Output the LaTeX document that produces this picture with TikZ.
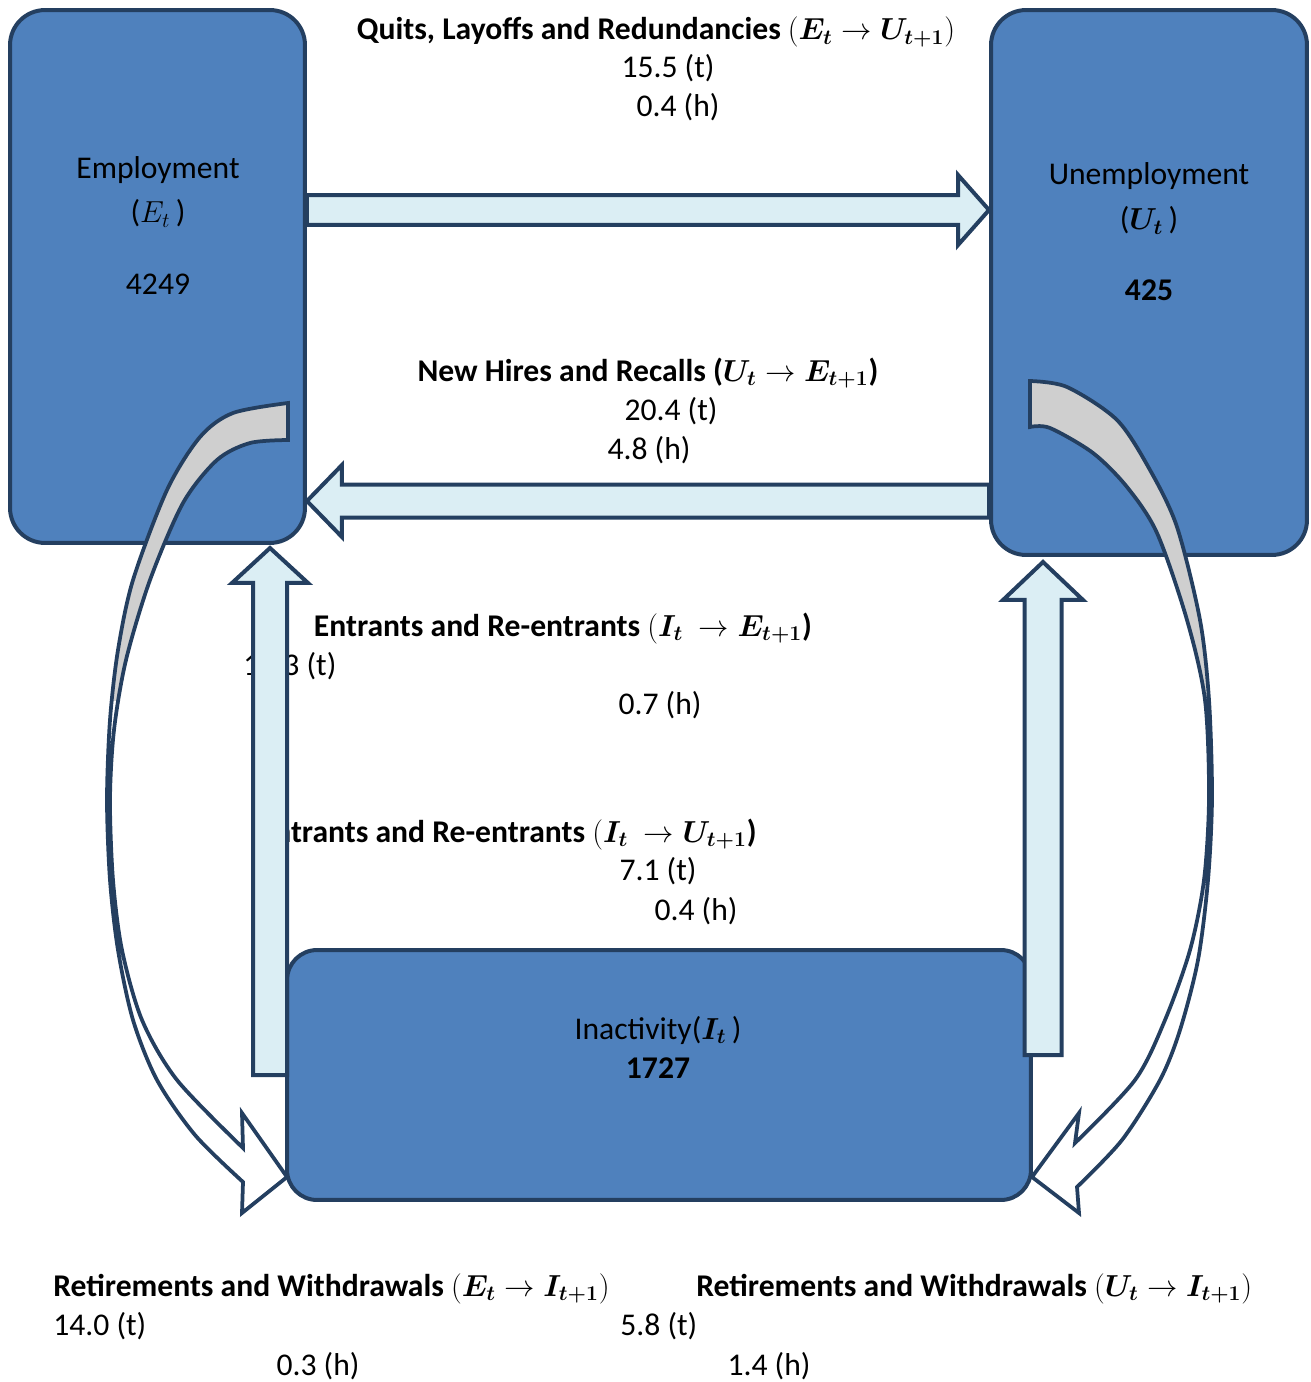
\documentclass[tikz,border=0pt]{standalone}
\usepackage{fontspec}
\setmainfont{Carlito}
\usepackage{amsmath,bm}
\usetikzlibrary{positioning,calc}
\definecolor{boxBlue}{HTML}{4F81BD}
\definecolor{edgeNavy}{HTML}{243F60}
\definecolor{flowPale}{HTML}{DBEEF4}
\definecolor{twistGrey}{HTML}{CFCFCF}
\newcommand{\lblsize}{\fontsize{18pt}{22.2pt}\selectfont}

% block arrow: from, to, shaft half width, head half width, head length
\newcommand{\barr}[5]{%
  \draw[flowarrow] let \p1=(#1), \p2=(#2), \n1={atan2(\y2-\y1,\x2-\x1)} in
    ($(\p1)+(\n1+90:#3)$) -- ($(\p2)+(\n1+180:#5)+(\n1+90:#3)$)
    -- ($(\p2)+(\n1+180:#5)+(\n1+90:#4)$) -- (\p2)
    -- ($(\p2)+(\n1+180:#5)+(\n1-90:#4)$) -- ($(\p2)+(\n1+180:#5)+(\n1-90:#3)$)
    -- ($(\p1)+(\n1-90:#3)$) -- cycle;}

% curved arrows (Employment -> Inactivity, Unemployment -> Inactivity)
\newcommand{\twistL}{plot[smooth] coordinates {(288,403) (233,413) (200,437) (167,490)
    (133,580) (118,650) (110,720) (107,800) (110,880) (118,950) (133,1020) (157,1080)
    (195,1135) (243,1182)}
  -- (242,1213) -- (287,1177) -- (242,1113)
  -- plot[smooth] coordinates {(243,1148) (177,1080) (142,1020) (122,950) (113,880)
    (110,800) (114,730) (126,660) (150,580) (183,503) (217,460) (250,443) (288,440)}
  -- cycle}
\newcommand{\twistR}{plot[smooth] coordinates {(1030,381) (1067,387) (1117,420) (1150,470)
    (1177,527) (1200,620) (1209,700) (1212,797) (1208,880) (1198,960) (1180,1030)
    (1160,1080) (1122,1140) (1077,1187)}
  -- (1079,1213) -- (1032,1177) -- (1079,1113)
  -- plot[smooth] coordinates {(1075,1143) (1135,1080) (1165,1020) (1190,950) (1204,880)
    (1209,797) (1205,700) (1187,620) (1157,533) (1127,487) (1093,453) (1050,428) (1030,427)}
  -- cycle}

\begin{document}
\begin{tikzpicture}[
  x=0.02cm, y=-0.02cm,
  stock/.style={draw=edgeNavy, fill=boxBlue, line width=0.08cm, rounded corners=0.7cm, inner sep=0},
  flowarrow/.style={draw=edgeNavy, fill=flowPale, line width=0.08cm, line join=miter},
  twist/.style={draw=edgeNavy, line width=0.075cm, line join=miter},
  lbl/.style={font=\lblsize, inner sep=0, anchor=base},
  head/.style={lbl, font=\lblsize\bfseries}
]
\useasboundingbox (0,0) rectangle (1311,1382);

% stocks
\node[stock, minimum width=5.9cm, minimum height=10.66cm] (emp) at (157.5,276.5) {};
\node[stock, minimum width=6.32cm, minimum height=10.9cm] (unemp) at (1149,282.5) {};
\node[stock, minimum width=14.88cm, minimum height=5cm, rounded corners=0.6cm] (inact) at (659,1075) {};

\node[lbl] (empname) at (158,179) {Employment};
\node[lbl] (empsym) at (158,223) {($E_t$\,)};
\node[lbl] (empnum) at (158,294) {4249};
\node[lbl] (unempname) at (1149,185) {Unemployment};
\node[lbl] (unempsym) at (1149,230) {($\bm{U_t}$\,)};
\node[head] (unempnum) at (1149,300) {425};
\node[lbl] (inactname) at (658,1039) {Inactivity($\bm{I_t}$\,)};
\node[head] (inactnum) at (658,1078) {1727};

% flow labels
\node[head] (qlt) at (656,40) {Quits, Layoffs and Redundancies $(\bm{E_t}\rightarrow\bm{U_{t+1}})$};
\node[lbl] (qt) at (668,78) {15.5 (t)};
\node[lbl] (qh) at (678,117) {0.4 (h)};
\node[head] (hlt) at (648,381) {New Hires and Recalls ($\bm{U_t}\rightarrow\bm{E_{t+1}}$)};
\node[lbl] (ht) at (671,420) {20.4 (t)};
\node[lbl] (hh) at (649,459) {4.8 (h)};
\node[head] (ielt) at (563,636) {Entrants and Re-entrants $(\bm{I_t}\ \rightarrow\bm{E_{t+1}}$)};
\node[lbl, anchor=base west] (iet) at (243,675) {1\phantom{0.}3 (t)};
\node[lbl] (ieh) at (660,714) {0.7 (h)};
\node[head, anchor=base east] (iult) at (757,842) {Entrants and Re-entrants $(\bm{I_t}\ \rightarrow\bm{U_{t+1}}$)};
\node[lbl] (iut) at (658,880) {7.1 (t)};
\node[lbl] (iuh) at (696,920) {0.4 (h)};
\node[head, anchor=base west] (relt) at (53,1296) {Retirements and Withdrawals $(\bm{E_t}\rightarrow\bm{I_{t+1}})$};
\node[lbl, anchor=base west] (ret) at (53,1335) {14.0 (t)};
\node[lbl] (reh) at (318,1375) {0.3 (h)};
\node[head, anchor=base west] (rult) at (696,1296) {Retirements and Withdrawals $(\bm{U_t}\rightarrow\bm{I_{t+1}})$};
\node[lbl, anchor=base west] (rut) at (620,1335) {5.8 (t)};
\node[lbl] (ruh) at (769,1375) {1.4 (h)};

% straight flows
\coordinate (q0) at (emp.east |- 0,210);
\coordinate (q1) at (unemp.west |- 0,210);
\barr{q0}{q1}{0.3cm}{0.7cm}{0.62cm}
\coordinate (h0) at (unemp.west |- 0,501);
\coordinate (h1) at (emp.east |- 0,501);
\barr{h0}{h1}{0.33cm}{0.72cm}{0.7cm}
\coordinate (e0) at (270,1075);
\coordinate (e1) at (270,548);
\barr{e0}{e1}{0.34cm}{0.76cm}{0.7cm}
\coordinate (u0) at (1043,1055);
\coordinate (u1) at (1043,562);
\barr{u0}{u1}{0.37cm}{0.8cm}{0.76cm}

% curved flows
\fill[white] \twistL;
\fill[white] \twistR;
\begin{scope}
  \clip (0,0) rectangle (1311,700);
  \fill[twistGrey] \twistL;
  \fill[twistGrey] \twistR;
\end{scope}
\draw[twist] \twistL;
\draw[twist] \twistR;

\end{tikzpicture}
\end{document}
